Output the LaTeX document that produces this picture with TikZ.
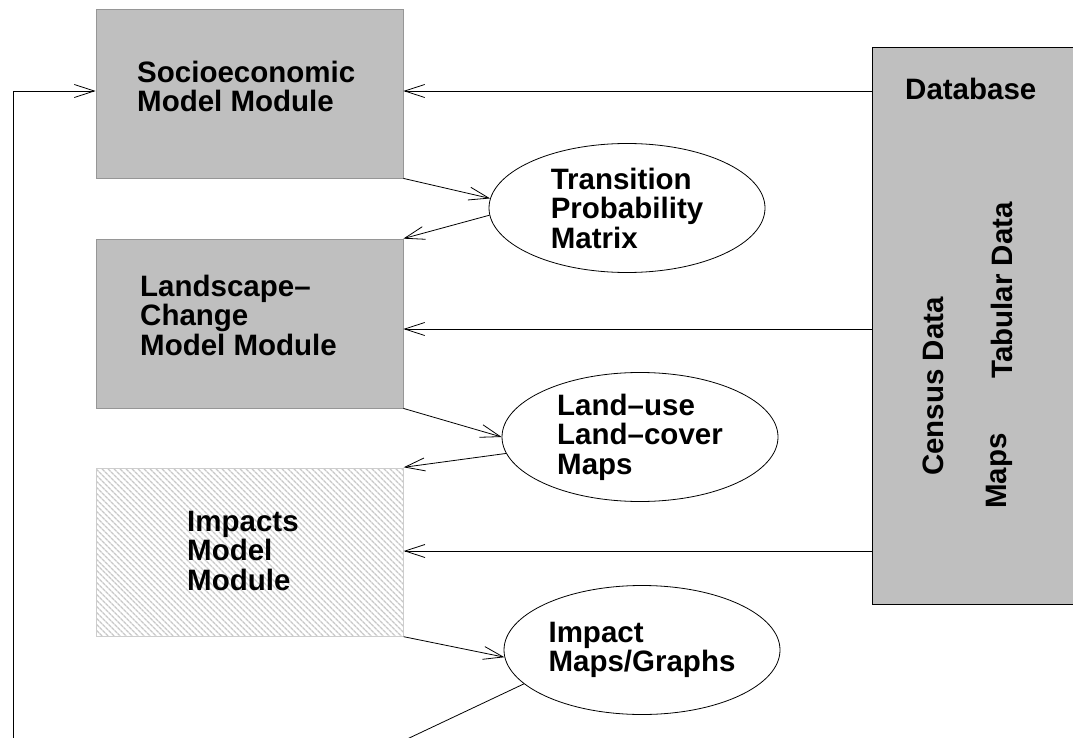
\documentclass[tikz,border=0pt]{standalone}
\usepackage{fontspec}
\setmainfont{Liberation Sans}
\usetikzlibrary{arrows.meta,shapes.geometric,patterns.meta}
\definecolor{boxgray}{RGB}{191,191,191}
\definecolor{boxedge}{RGB}{150,150,150}
\definecolor{hatchedge}{RGB}{205,205,205}
\definecolor{hatchline}{RGB}{200,200,200}
\begin{document}
\begin{tikzpicture}[x=1pt,y=-1pt,
  lbl/.style={font=\fontsize{29.5}{29.5}\selectfont\bfseries, align=left, inner sep=0pt},
  module/.style={draw=boxedge, fill=boxgray, line width=0.8pt, inner sep=0pt,
    minimum width=307pt, minimum height=169pt},
  hatchbox/.style={draw=hatchedge, line width=0.8pt, inner sep=0pt,
    minimum width=307pt, minimum height=168pt,
    pattern={Lines[angle=-45,distance=4pt,line width=1.4pt]}, pattern color=hatchline},
  dbbox/.style={draw=black, fill=boxgray, line width=0.8pt, inner sep=0pt,
    minimum width=210pt, minimum height=557pt},
  oval/.style={ellipse, draw=black, line width=0.8pt, inner sep=0pt,
    minimum width=276pt, minimum height=129pt,
    font=\fontsize{29.5}{29.5}\selectfont\bfseries, align=left},
  arr/.style={-{Straight Barb[length=20pt,width=13pt]}, line width=0.8pt},
  plain/.style={line width=0.8pt}
]
\useasboundingbox (0,0) rectangle (1073,738);
\clip (0,0) rectangle (1073,738);

% boxes
\node[module] (socio) at (249.5,93.5) {};
\node[module] (land) at (249.5,323.5) {};
\node[hatchbox] (impacts) at (249.5,552) {};
\node[dbbox] (db) at (977,325.5) {};

% box texts (anchored at the baseline of the last line)
\node[lbl, anchor=base west] (sociotxt) at (137,112) {Socioeconomic\\Model Module};
\node[lbl, anchor=base west] (landtxt) at (140,355) {Landscape--\\Change\\Model Module};
\node[lbl, anchor=base west] (imptxt) at (187,590) {Impacts\\Model\\Module};
\node[lbl, anchor=base west] (dbtxt) at (905,100) {Database};
\node[lbl, rotate=90, anchor=base west] (census) at (943,476) {Census Data};
\node[lbl, rotate=90, anchor=base west] (tabular) at (1012,379) {Tabular Data};
\node[lbl, rotate=90, anchor=base west] (maps) at (1006,509) {Maps};

% ellipses
\node[oval] (tpm) at (627,208) {Transition\\Probability\\Matrix};
\node[oval] (landuse) at (640,437) {Land--use\\Land--cover\\Maps};
\node[oval] (impact) at (642,650) {Impact\\Maps/Graphs};

% database inputs
\draw[arr] (db.west |- 0,91) -- (socio.east |- 0,91);
\draw[arr] (db.west |- 0,329) -- (land.east |- 0,329);
\draw[arr] (db.west |- 0,551) -- (impacts.east |- 0,551);

% chain
\draw[arr] (socio.south east) -- (tpm.176);
\draw[arr] (tpm.183) -- (land.north east);
\draw[arr] (land.south east) -- (landuse.180);
\draw[arr] (landuse.187) -- (impacts.north east);
\draw[arr] (impacts.south east) -- (impact.183);

% feedback loop
\coordinate (fbA) at (405,740);
\coordinate (fbB) at (13,740);
\draw[plain] (impact.196) -- (fbA);
\draw[arr] (fbB) |- (socio.west |- 0,91);
\end{tikzpicture}
\end{document}
